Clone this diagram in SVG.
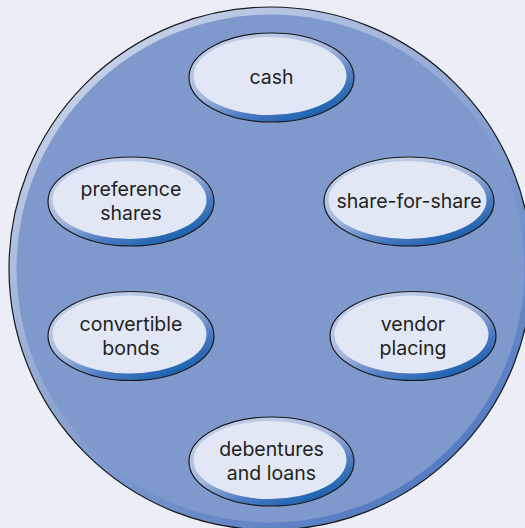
<svg xmlns="http://www.w3.org/2000/svg" width="525" height="528" viewBox="0 0 525 528">
<defs>
<linearGradient id="bigRim" x1="0.2" y1="0.1" x2="0.8" y2="0.9">
<stop offset="0" stop-color="#C3CFE8"/>
<stop offset="0.45" stop-color="#8FA6D3"/>
<stop offset="1" stop-color="#557BC2"/>
</linearGradient>
<linearGradient id="nodeRim" x1="0.15" y1="0" x2="0.85" y2="1">
<stop offset="0" stop-color="#C9D4EC"/>
<stop offset="0.45" stop-color="#A6B8DE"/>
<stop offset="0.7" stop-color="#4F7CC2"/>
<stop offset="1" stop-color="#0757A8"/>
</linearGradient>
<style>
.rim{fill:url(#nodeRim);stroke:#1A1A1A;stroke-width:1.2}
.face{fill:#E1E7F5}
.lbl{font-family:Inter,"Open Sans",sans-serif;font-size:19.5px;fill:#231F20;text-anchor:middle}
</style>
</defs>
<rect width="525" height="528" fill="#EBEDF7"/>
<g id="background-circle">
<circle cx="270.5" cy="268.5" r="261.5" fill="url(#bigRim)" stroke="#1A1A1A" stroke-width="1.2"/>
<circle cx="270.5" cy="268.5" r="254" fill="#7F99CC"/>
</g>
<g id="connectors"/>
<g id="cash">
<ellipse class="rim" cx="271.5" cy="77.5" rx="82.5" ry="44.5"/>
<ellipse class="face" cx="270" cy="76" rx="76.5" ry="39"/>
<text class="lbl" x="271.5" y="84">cash</text>
</g>
<g id="preference-shares">
<ellipse class="rim" cx="131" cy="201.5" rx="83" ry="44.5"/>
<ellipse class="face" cx="129.5" cy="200" rx="77" ry="39"/>
<text class="lbl"><tspan x="131" y="196">preference</tspan><tspan x="131" y="220">shares</tspan></text>
</g>
<g id="share-for-share">
<ellipse class="rim" cx="409" cy="201.5" rx="85" ry="44.5"/>
<ellipse class="face" cx="407.5" cy="200" rx="79" ry="39"/>
<text class="lbl" x="409" y="208">share-for-share</text>
</g>
<g id="convertible-bonds">
<ellipse class="rim" cx="131" cy="336" rx="83" ry="44.5"/>
<ellipse class="face" cx="129.5" cy="334.5" rx="77" ry="39"/>
<text class="lbl"><tspan x="131" y="331">convertible</tspan><tspan x="131" y="355">bonds</tspan></text>
</g>
<g id="vendor-placing">
<ellipse class="rim" cx="413" cy="336" rx="83" ry="44.5"/>
<ellipse class="face" cx="411.5" cy="334.5" rx="77" ry="39"/>
<text class="lbl"><tspan x="413" y="331">vendor</tspan><tspan x="413" y="355">placing</tspan></text>
</g>
<g id="debentures-and-loans">
<ellipse class="rim" cx="271.5" cy="461.5" rx="82.5" ry="44.5"/>
<ellipse class="face" cx="270" cy="460" rx="76.5" ry="39"/>
<text class="lbl"><tspan x="271.5" y="456">debentures</tspan><tspan x="271.5" y="480">and loans</tspan></text>
</g>
</svg>
